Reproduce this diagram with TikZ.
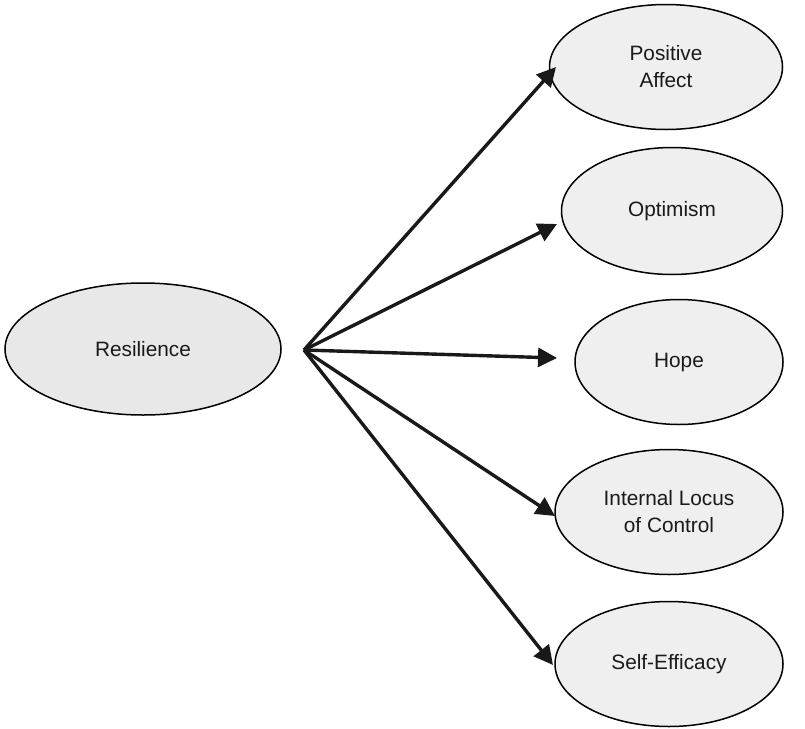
\documentclass[tikz,border=0pt]{standalone}
\usepackage{fontspec}
\setmainfont{Liberation Sans}
\usetikzlibrary{shapes.geometric,arrows.meta}
\definecolor{ellfill}{HTML}{EFEFEF}
\definecolor{resfill}{HTML}{E8E8E8}
\definecolor{txt}{HTML}{1A1A1A}
\begin{document}
\begin{tikzpicture}[x=1pt,y=-1pt,
  ell/.style={ellipse,draw=black,line width=1.5pt,fill=ellfill,inner sep=0pt,
    text=txt,font=\fontsize{20.8}{27}\selectfont,align=center},
  arr/.style={line width=3.4pt,draw=black!90,-{Triangle[length=19pt,width=19pt]}}]
\useasboundingbox (0,0) rectangle (805,728);
\node[ell,fill=resfill,minimum width=276pt,minimum height=132pt] (res) at (143,349) {Resilience};
\node[ell,minimum width=233pt,minimum height=125pt] (pa) at (666,67) {Positive\\Affect};
\node[ell,minimum width=221pt,minimum height=127pt] (opt) at (672,211) {Optimism};
\node[ell,minimum width=208pt,minimum height=125pt] (hope) at (679,362) {Hope};
\node[ell,minimum width=228pt,minimum height=125pt] (ilc) at (669,512) {Internal Locus\\of Control};
\node[ell,minimum width=228pt,minimum height=125pt] (se) at (669,664) {Self-Efficacy};
\coordinate (hub) at (304,350);
\coordinate (tpa) at (556,67);
\coordinate (topt) at (557,224);
\coordinate (thope) at (557,358);
\coordinate (tilc) at (555,516);
\coordinate (tse) at (553,665);
\draw[arr] (hub) -- (tpa);
\draw[arr] (hub) -- (topt);
\draw[arr] (hub) -- (thope);
\draw[arr] (hub) -- (tilc);
\draw[arr] (hub) -- (tse);
\end{tikzpicture}
\end{document}
